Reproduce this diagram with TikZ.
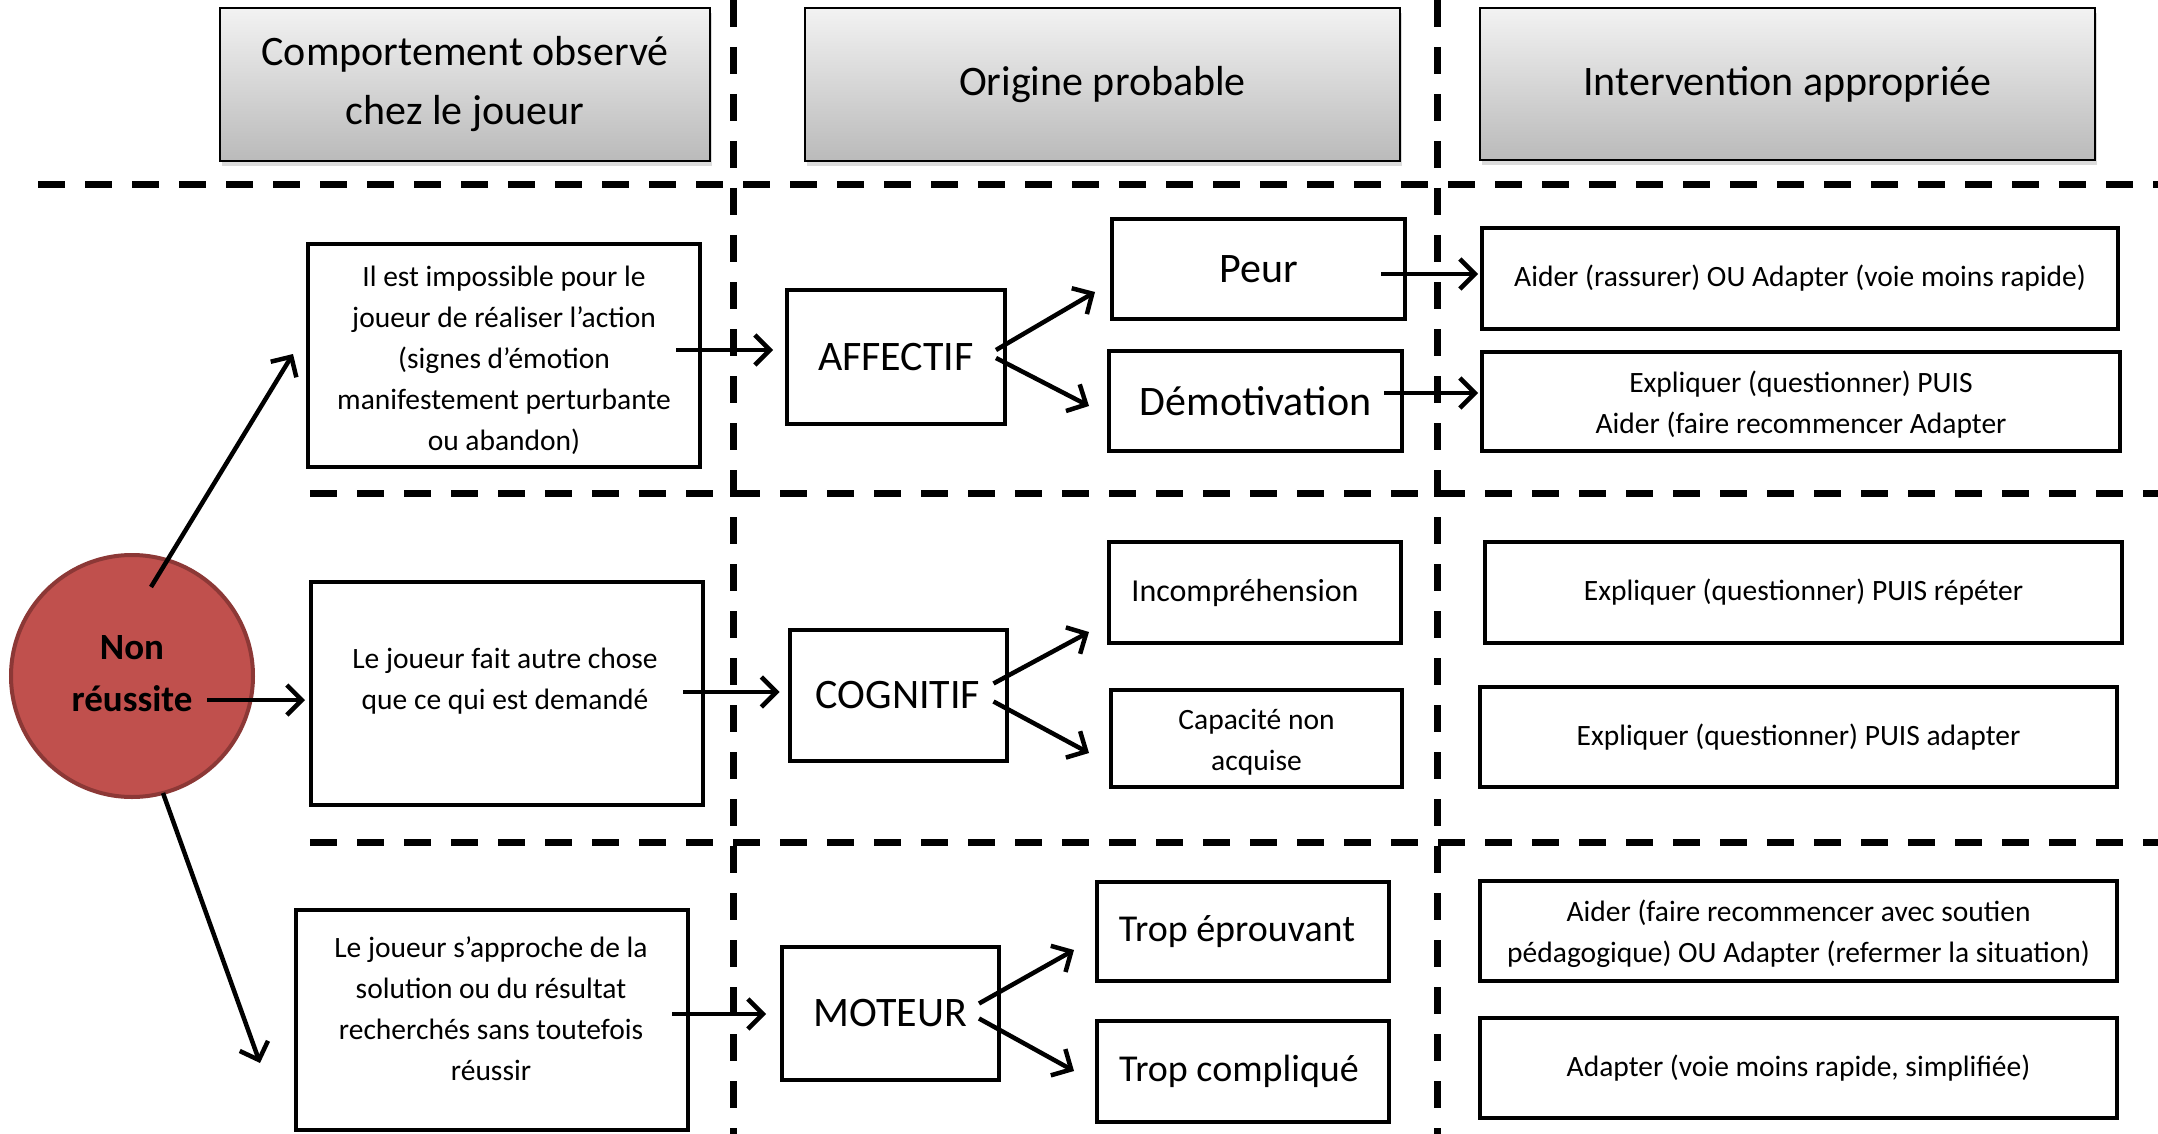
\documentclass[tikz,border=0pt]{standalone}
\usepackage{fontspec}
\setmainfont{Carlito}
\usetikzlibrary{arrows.meta}
\begin{document}
\begin{tikzpicture}[x=1pt,y=-1pt,
  hdr/.style={draw=black, line width=2pt, top color=black!5, bottom color=black!27, inner sep=0pt, align=center, font=\fontsize{42}{59}\selectfont},
  hshadow/.style={fill=black!14, draw=none, inner sep=0pt},
  boxn/.style={draw=black, line width=4pt, inner sep=0pt, fill=white, align=center},
  small/.style={align=center, font=\fontsize{29.5}{41}\selectfont, inner sep=0pt},
  big/.style={font=\fontsize{42}{50}\selectfont},
  mid/.style={font=\fontsize{38}{45}\selectfont},
  sep/.style={line width=7pt, dash pattern=on 27pt off 20pt},
  arr/.style={line width=4.5pt, -{Straight Barb[length=15pt,width=30pt]}},
]
\useasboundingbox (0,0) rectangle (2158,1134);

% separators
\draw[sep] (733,0) -- (733,1134);
\draw[sep] (1437,0) -- (1437,1134);
\draw[sep] (38,185) -- (2158,185);
\draw[sep] (310,493) -- (2158,493);
\draw[sep] (310,842) -- (2158,842);

% headers
\node[hshadow, minimum width=490pt, minimum height=153pt] (sh1) at (467,90) {};
\node[hshadow, minimum width=595pt, minimum height=153pt] (sh2) at (1104.5,90) {};
\node[hshadow, minimum width=615pt, minimum height=152pt] (sh3) at (1789.5,89) {};
\node[hdr, minimum width=490pt, minimum height=153pt] (h1) at (465,84.5) {Comportement observé\\chez le joueur};
\node[hdr, minimum width=595pt, minimum height=153pt] (h2) at (1102.5,84.5) {Origine probable};
\node[hdr, minimum width=615pt, minimum height=152pt] (h3) at (1787.5,84) {Intervention appropriée};

% circle
\node[circle, minimum size=242pt, inner sep=0pt, fill={rgb,255:red,192;green,80;blue,77}, draw={rgb,255:red,140;green,56;blue,54}, line width=4pt] (nr) at (132,676) {};
\node[align=center, inner sep=0pt, font=\fontsize{37}{52}\selectfont\bfseries] (nrt) at (132,674) {Non\\réussite};

% observed behaviour boxes
\node[boxn, minimum width=392pt, minimum height=223pt] (obs1) at (504,355.5) {};
\node[small] (obs1t) at (504,360) {Il est impossible pour le\\joueur de réaliser l’action\\(signes d’émotion\\manifestement perturbante\\ou abandon)};
\node[boxn, minimum width=392pt, minimum height=223pt] (obs2) at (507,693.5) {};
\node[small] (obs2t) at (505,681) {Le joueur fait autre chose\\que ce qui est demandé};
\node[boxn, minimum width=392pt, minimum height=220pt] (obs3) at (492,1020) {};
\node[small] (obs3t) at (491,1009) {Le joueur s’approche de la\\solution ou du résultat\\recherchés sans toutefois\\réussir};

% origin boxes
\node[boxn, big, minimum width=218pt, minimum height=134pt] (aff) at (896,357) {AFFECTIF};
\node[boxn, big, minimum width=217pt, minimum height=131pt] (cog) at (898,695.5) {COGNITIF};
\node[boxn, big, minimum width=217pt, minimum height=133pt] (mot) at (890.5,1013.5) {MOTEUR};

\node[boxn, big, minimum width=293pt, minimum height=100pt] (peur) at (1258.5,269) {Peur};
\node[boxn, big, minimum width=293pt, minimum height=100pt] (demot) at (1255.5,401) {Démotivation};
\node[boxn, minimum width=292pt, minimum height=101pt] (incomp) at (1255,592.5) {};
\node[small, font=\fontsize{32}{41}\selectfont] (incompt) at (1245,593) {Incompréhension};
\node[boxn, minimum width=291pt, minimum height=97pt] (capa) at (1256.5,738.5) {};
\node[small] (capat) at (1256.5,742) {Capacité non\\acquise};
\node[boxn, minimum width=292pt, minimum height=99pt] (trop1) at (1243,931.5) {};
\node[mid, inner sep=0pt] (trop1t) at (1237,931.5) {Trop éprouvant};
\node[boxn, minimum width=292pt, minimum height=101pt] (trop2) at (1243,1071.5) {};
\node[mid, inner sep=0pt] (trop2t) at (1239,1071.5) {Trop compliqué};

% interventions
\node[boxn, small, minimum width=636pt, minimum height=101pt] (int1) at (1800,278.5) {Aider (rassurer) OU Adapter (voie moins rapide)};
\node[boxn, minimum width=638pt, minimum height=99pt] (int2) at (1801,401.5) {};
\node[small] (int2t) at (1801,405) {Expliquer (questionner) PUIS\\Aider (faire recommencer Adapter};
\node[boxn, small, minimum width=637pt, minimum height=101pt] (int3) at (1803.5,592.5) {Expliquer (questionner) PUIS répéter};
\node[boxn, small, minimum width=637pt, minimum height=100pt] (int4) at (1798.5,737) {Expliquer (questionner) PUIS adapter};
\node[boxn, minimum width=637pt, minimum height=100pt] (int5) at (1798.5,931) {};
\node[small] (int5t) at (1798.5,934) {Aider (faire recommencer avec soutien\\pédagogique) OU Adapter (refermer la situation)};
\node[boxn, small, minimum width=637pt, minimum height=100pt] (int6) at (1798.5,1068) {Adapter (voie moins rapide, simplifiée)};

% arrows
\draw[arr] ([shift={(19,-89)}]nr.center) -- ([shift={(-13,-1.5)}]obs1.west);
\draw[arr] ([shift={(75,24)}]nr.center) -- ([shift={(-4,6.5)}]obs2.west);
\draw[arr] ([shift={(31,117)}]nr.center) -- ([shift={(-34,43)}]obs3.west);

\draw[arr] ([shift={(-26,-5.5)}]obs1.east) -- ([shift={(-12,-7)}]aff.west);
\draw[arr] ([shift={(-22,-1.5)}]obs2.east) -- ([shift={(-8,-3.5)}]cog.west);
\draw[arr] ([shift={(-18,-6)}]obs3.east) -- ([shift={(-14,0.5)}]mot.west);

\draw[arr] ([shift={(-11,-7)}]aff.east) -- ([shift={(-15,23)}]peur.west);
\draw[arr] ([shift={(-11,1)}]aff.east) -- ([shift={(-18,5)}]demot.west);
\draw[arr] ([shift={(-15,-12)}]cog.east) -- ([shift={(-18,39.5)}]incomp.west);
\draw[arr] ([shift={(-15,6)}]cog.east) -- ([shift={(-20,14.5)}]capa.west);
\draw[arr] ([shift={(-22,-10)}]mot.east) -- ([shift={(-21,18.5)}]trop1.west);
\draw[arr] ([shift={(-22,5)}]mot.east) -- ([shift={(-21,-0.5)}]trop2.west);

\draw[arr] ([shift={(-26,5)}]peur.east) -- ([shift={(-2,-4.5)}]int1.west);
\draw[arr] ([shift={(-20,-8)}]demot.east) -- ([shift={(-2,-8.5)}]int2.west);
\end{tikzpicture}
\end{document}
